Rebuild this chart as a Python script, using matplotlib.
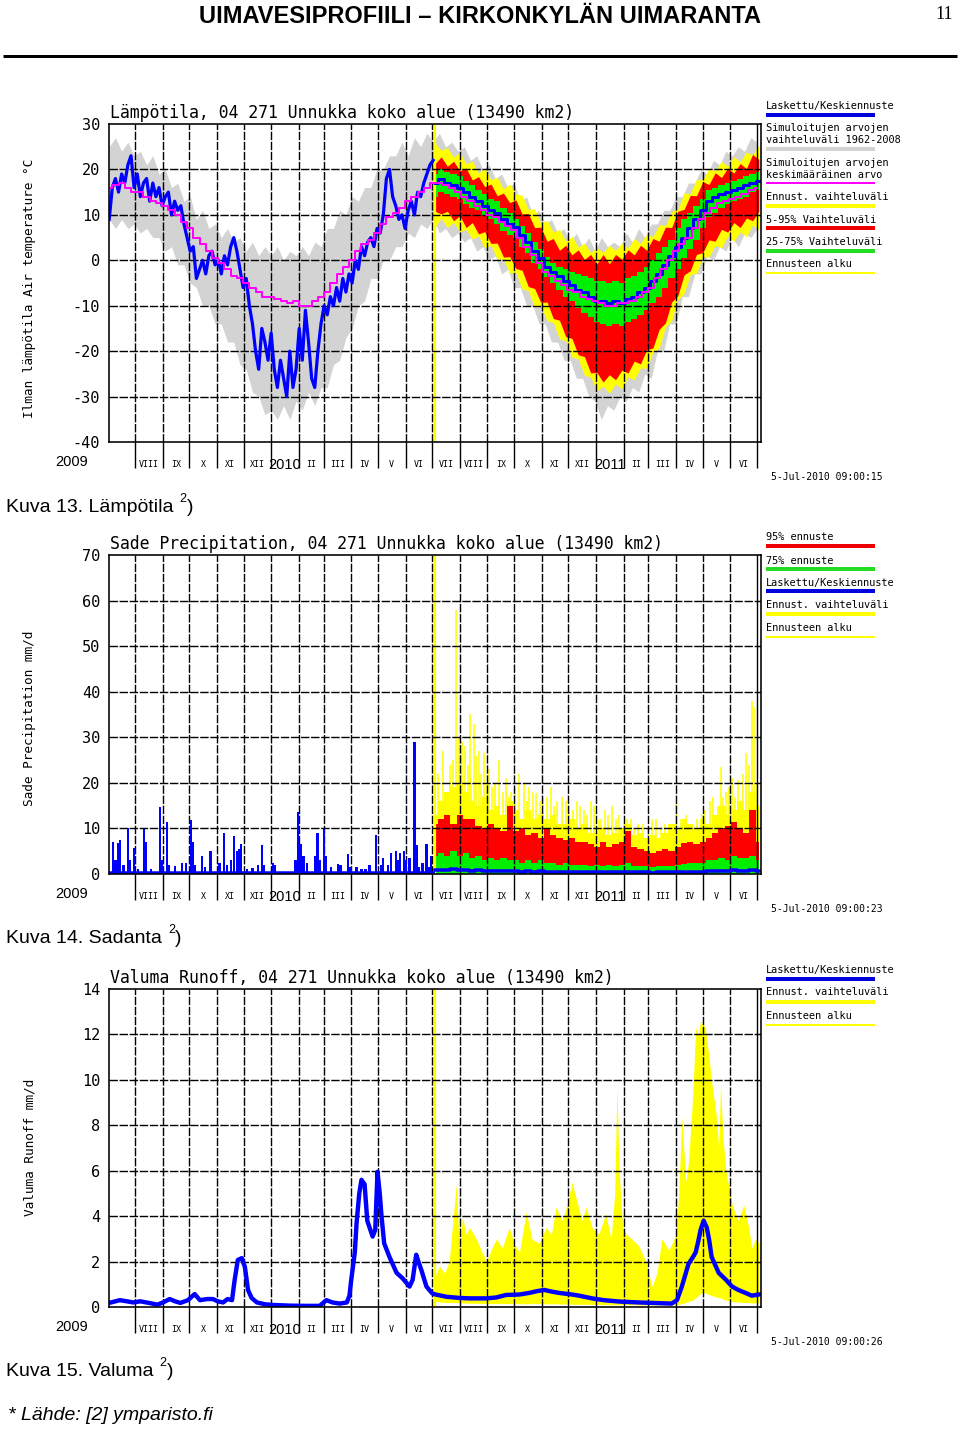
import numpy as np
import pandas as pd
import matplotlib
matplotlib.use('Agg')
import matplotlib.pyplot as plt
from matplotlib import font_manager as fm
from matplotlib.transforms import ScaledTranslation

# ------------------------------------------------------------------ data
AXIS_START = pd.Timestamp('2009-07-03')
AXIS_END = pd.Timestamp('2011-07-05')
FORECAST_START = pd.Timestamp('2010-07-04')
month_starts = pd.date_range('2009-08-01', '2011-07-01', freq='MS')
month_labels = ['VIII', 'IX', 'X', 'XI', 'XII', '2010', 'II', 'III', 'IV', 'V', 'VI',
                'VII', 'VIII', 'IX', 'X', 'XI', 'XII', '2011', 'II', 'III', 'IV', 'V', 'VI']

# weekly climatology (simulated 1962-2008), first value at 2009-07-03
clim_start = '2009-07-03'
temp_sim_max = [25, 27, 24, 26, 23, 24, 21, 23, 19, 20, 16, 17, 13, 14, 9, 11, 7, 8, 5, 7,
                4, 5, 2, 4, 1, 3, 1, 3, 0, 2, 1, 3, 1, 4, 3, 7, 7, 11, 10, 14, 13, 16, 16,
                20, 20, 23, 23, 26, 23, 27, 25, 28, 26,
                28, 25, 26, 24, 25, 22, 23, 20, 21, 18, 19, 16, 17, 13, 14, 10, 11, 8, 9,
                6, 7, 4, 6, 3, 5, 2, 5, 3, 4, 3, 6, 4, 7, 5, 8, 8, 11, 11, 14, 14, 17, 17,
                20, 19, 22, 21, 24, 23, 25, 24, 27, 26]
temp_sim_min = [9, 7, 9, 7, 8, 6, 7, 5, 5, 2, 3, -1, -1, -5, -6, -10, -10, -14, -14, -18,
                -18, -23, -24, -29, -30, -34, -33, -35, -32, -35, -31, -33, -29, -32, -28,
                -28, -23, -22, -17, -15, -10, -9, -4, -4, 0, 0, 3, 3, 6, 5, 8, 7, 9,
                6, 7, 5, 6, 4, 5, 2, 3, 0, 1, -3, -2, -6, -6, -10, -10, -14, -14, -18, -18,
                -22, -22, -26, -26, -30, -31, -35, -32, -33, -30, -31, -28, -29, -25, -26,
                -20, -20, -14, -14, -8, -8, -3, -3, 1, 0, 3, 2, 5, 3, 6, 5, 7]
temp_sim_mean = [16, 16.5, 17, 16, 15, 15, 14, 13, 12.5, 12, 11, 10, 8.5, 7, 5, 3.5, 2,
                 0.5, -0.5, -2, -3.5, -4, -5, -6, -7, -8, -8, -8.5, -9, -9.5, -9, -10, -10,
                 -9, -8, -7, -5, -3, -1.5, 0, 2, 3.5, 4.5, 6, 8, 9.5, 10.5, 11.5, 13, 14,
                 15, 16, 17,
                 17, 16.5, 16, 15, 14, 13, 12, 11, 10, 9.5, 8.5, 7.5, 6.6, 4.8, 3, 1.2,
                 -0.6, -2.5, -3.5, -4.5, -5.5, -6.5, -7, -8, -8.5, -9, -9.5, -10, -10,
                 -9.5, -9.5, -9, -8, -7, -6, -4, -2, 0, 2, 3.5, 5, 7, 9, 10.5, 11.5, 12.5,
                 13, 13.5, 14, 14.5, 15.5, 16]

# observed air temperature, every 3.5 days from 2009-07-03
obs_step_days = 3.5
temp_obs = [9, 16, 18, 15, 19, 17, 21, 23, 16, 19, 14, 17, 18, 13, 17, 14, 16, 12, 14, 15,
            10, 13, 11, 12, 8, 5, 2, 3, -4, -2, 0, -3, 1, 2, -1, 0, -3, 1, -1, 3, 5, 2, -2,
            -6, -4, -10, -14, -20, -24, -15, -18, -22, -16, -24, -28, -22, -26, -30, -20,
            -28, -24, -15, -22, -11, -18, -26, -28, -20, -14, -10, -12, -8, -10, -6, -9,
            -4, -7, -3, -5, 0, -2, 3, 1, 4, 5, 3, 7, 6, 10, 18, 20, 14, 12, 9, 10, 7, 11,
            13, 10, 15, 14, 17, 19, 21, 22]

# weekly forecast statistics, first value at 2010-07-04
temp_fc_median = [17, 18, 17, 16.5, 16, 15, 14, 13, 12, 11, 10.5, 9, 8, 7.3, 5.5, 4, 2, 0.5,
                  -1.5, -2.5, -3.5, -4.5, -5.5, -6.5, -7, -8, -9, -9, -9.5, -9, -9.5, -8.5,
                  -8, -7, -6, -4.5, -3, -1, 1, 3, 5, 7, 9, 11, 13, 14, 14.5, 15, 15.5, 16,
                  16.5, 17, 17.5]
temp_fc_p75 = [19, 20, 19.5, 19, 18.5, 17.5, 16.5, 15.5, 14.5, 13.5, 13, 11.5, 10.5, 9, 7.5,
               6, 4, 2.5, 0.7, -0.5, -1.5, -2, -2.5, -3, -3.5, -4, -4.5, -4.5, -5, -4.5, -5,
               -4, -3.5, -2.5, -1.5, 0, 1.5, 3, 4.5, 7, 9, 10.5, 12, 13.5, 15.4, 16, 16.5,
               17, 17.5, 18, 18.5, 19, 19.5]
temp_fc_p25 = [14, 15, 14.5, 14, 13.5, 12.5, 11.5, 11, 10, 9, 8, 6.5, 5.5, 5, 3, 1.5, -0.5,
               -2, -3.7, -5, -6.5, -8, -9, -10.5, -11.5, -12.5, -13.5, -14, -14.5, -14,
               -14.5, -13.5, -13, -12, -11, -9.5, -8, -6, -4, -2, 0.5, 2.5, 4.5, 7, 9.5,
               10.5, 11.5, 12.5, 13, 13.5, 14, 15, 15.5]
temp_fc_p95 = [21.2, 22.8, 20.7, 21.8, 19.7, 20.3, 17.7, 18.4, 16.2, 16.8, 14.2, 14.8, 12.7,
               13.3, 10.2, 10.3, 7.2, 7.3, 4.2, 4.8, 2.2, 3.3, 1.2, 2.3, 0.2, 1.3, -0.8, 1.3,
               -0.8, 1.3, 0.2, 2.3, 1.2, 3.3, 2.2, 4.8, 4.2, 7.3, 7.2, 10.8, 11.2, 14.3,
               14.2, 17.3, 16.7, 19.3, 18.2, 20.3, 19.2, 21.3, 20.2, 23.3, 22.2]
temp_fc_p5 = [10.8, 10.2, 10.8, 8.7, 9.8, 7.2, 8.3, 5.8, 6.3, 3.7, 3.8, 0.7, 0.8, -1.8, -2.2,
              -5.8, -6.2, -9.3, -9.2, -12.8, -13.2, -16.8, -17.2, -20.8, -21.2, -24.8,
              -24.7, -26.8, -25.2, -26.3, -24.2, -24.8, -22.2, -22.8, -19.7, -19.3, -15.2,
              -13.8, -9.2, -7.8, -3.2, -2.3, 1.3, 1.7, 4.5, 4.2, 6.8, 6.2, 8.3, 7.2, 9.3,
              8.7, 10.8]
temp_fc_max = [25.8, 24.2, 24.8, 22.7, 23.8, 21.2, 21.8, 19.2, 20.3, 17.7, 18.3, 15.7, 16.8,
               14.6, 14.3, 11.2, 11.3, 8.2, 8.8, 6.2, 6.8, 4.2, 5.3, 2.9, 3.8, 1.7, 2.8, 1.7,
               3.3, 2.2, 3.8, 2.7, 4.8, 3.7, 5.8, 5.2, 7.8, 7.7, 10.8, 11.2, 14.8, 14.7,
               17.8, 17.7, 20.3, 19.7, 21.8, 20.7, 22.8, 21.7, 23.8, 23.2, 25.3]
temp_fc_min = [7.2, 9.3, 7.2, 8.3, 6.2, 6.8, 4.7, 5.3, 2.7, 3.3, 0.2, 0.3, -2.8, -2.7, -6.3,
               -6.7, -10.3, -10.2, -13.3, -13.7, -17.3, -17.7, -21.3, -21.7, -25.3, -25.7,
               -28.8, -27.7, -29.3, -27.2, -28.3, -25.7, -26.3, -23.7, -23.8, -20.2, -19.3,
               -14.7, -13.3, -8.7, -7.3, -3.2, -2.8, 0.8, 0.7, 3.3, 2.7, 5.3, 4.2, 6.3, 5.2,
               7.8, 6.7]

# observed precipitation (days after 2009-07-03, mm/d)
rain_obs_day = [4, 7, 10, 12, 16, 21, 23.5, 28, 32.5, 39, 41.5, 47, 57, 59.5, 65, 67, 74,
                82, 86, 92, 94, 96.5, 104, 107.5, 114, 124, 129, 132, 137, 140, 143.5, 146,
                148, 155, 161, 167, 171.5, 174, 184, 186, 196, 203, 209.5, 212, 215, 218.5,
                222, 231, 234, 236.5, 241, 243, 249, 257, 260, 268, 271, 278, 283.5, 288,
                292.5, 300, 306, 308, 313, 317, 322, 324, 327, 331, 333, 337.5, 343, 346,
                348.5, 352, 356.5, 360, 362]
rain_obs = [7.0, 3, 6.8, 7.5, 2, 10, 3, 5.7, 1, 9.9, 7, 1, 14.7, 3, 11.4, 2, 1.8, 2.4, 2.4,
            11.8, 7, 2, 3.9, 1.5, 5, 2.5, 9, 2, 3, 8.4, 5, 5.5, 6.5, 1, 1.3, 2, 6.4, 2, 2.4,
            2, 0.3, 0.5, 3, 13.6, 6.6, 4, 2.4, 4, 9, 3, 9.9, 4, 1.6, 2.2, 2, 4.4, 1.5, 1.6,
            1.2, 1, 2, 8.6, 2, 3.5, 2, 4.6, 5, 3, 4.6, 5, 3, 3.5, 29, 6.4, 1.5, 2.4, 6.6,
            1.5, 3.9]

# weekly precipitation forecast, first value at 2010-07-04
rain_fc_max = [13, 16, 18, 19, 20, 18, 16, 15, 17, 14, 15, 13, 16, 14, 12, 14, 12, 13, 12,
               13, 11, 11, 12, 10, 11, 9, 9, 10, 8.5, 9, 10, 11, 8.5, 9, 8, 8.5, 8, 9, 11,
               10, 12, 11, 10, 12, 11, 13, 15, 13, 14, 16, 14, 18, 15]
rain_fc_p95 = [11, 12, 13, 11, 13, 12, 12, 10.5, 10, 11, 10, 9.5, 15, 9.5, 10, 8.5, 9, 8, 10,
               8.5, 8, 7.5, 8, 7, 7, 6.5, 6, 7, 6, 6.5, 7, 9.5, 6, 5.5, 5, 4.6, 5, 5.5, 5, 6,
               6.8, 7, 6.5, 7, 8, 9, 10, 10.5, 11.4, 10, 9, 14, 7]
rain_fc_p75 = [4, 4.5, 4, 5, 4, 4.5, 3.5, 4, 3, 3.5, 3, 3.5, 3, 3, 2.5, 3, 2.5, 3, 2.5, 2.5,
               2, 2.5, 2, 2, 2, 1.8, 2, 1.8, 2, 1.8, 2, 2.5, 1.8, 1.7, 1.7, 1.5, 1.7, 1.8,
               1.8, 2, 2.2, 2.5, 2.5, 2.5, 3, 3, 3.5, 3, 4, 3.5, 3.5, 4, 3]
rain_fc_median = [0.8, 0.9, 0.8, 1.0, 0.8, 0.8, 0.7, 0.8, 0.7, 0.7, 0.6, 0.7, 0.6, 0.6, 0.5,
                  0.6, 0.5, 0.6, 0.5, 0.5, 0.4, 0.5, 0.4, 0.4, 0.4, 0.4, 0.4, 0.4, 0.4, 0.4,
                  0.4, 0.5, 0.4, 0.4, 0.4, 0.3, 0.4, 0.4, 0.4, 0.4, 0.5, 0.5, 0.5, 0.5, 0.6,
                  0.6, 0.7, 0.6, 0.8, 0.7, 0.7, 0.8, 0.6]
# single-day maxima of the forecast ensemble (days after 2009-07-03)
rain_spike_day = [383, 390, 393, 396, 400, 405, 410, 415, 421, 427, 434, 438, 446, 452, 461,
                  466, 472, 480, 488, 497, 503, 509, 517, 526, 533, 541, 550, 557, 565, 573,
                  582, 594, 610, 620, 637, 648, 655, 666, 679, 688, 690, 696, 700, 707, 712,
                  716, 722, 725,
                  370, 375, 379, 386, 403, 407, 412, 418, 424, 430, 442, 449, 456, 469, 476,
                  484, 492, 500, 513, 521, 529, 537, 545, 553, 561, 569, 578, 586, 590, 600,
                  605, 615, 625, 631, 642, 660, 670, 675, 684, 693, 703, 719, 728]
rain_spike = [24, 58, 30, 29, 28, 35, 33, 27, 26.5, 23, 20, 25, 21, 18, 22, 20, 19, 17.7, 17,
              19, 16, 17, 15, 16, 14, 16, 11.8, 14, 15, 13, 12, 11, 12, 10, 15.5, 13, 11, 13,
              17, 23.5, 17, 19, 21, 20.6, 22, 26.5, 38, 36.6,
              22, 27, 18, 25, 24, 21, 26, 22, 20, 19, 18, 17, 19, 16, 18, 16, 17, 15, 16,
              14, 15, 13, 15, 12, 13, 12, 11, 12, 10, 11, 10, 12, 11, 10, 12, 12, 14, 16,
              15, 18, 17, 24, 20]

# runoff (days after 2009-07-03, mm/d)
runoff_obs_day = [0, 12, 20, 27, 35, 46, 54, 60.5, 68, 74, 80, 88.5, 96, 102, 110, 116.5, 122,
                  128, 133, 138, 141, 144.5, 149, 152.5, 156, 160, 166, 175, 184, 203, 220,
                  236.5, 244, 251, 259, 267, 270, 272, 276, 278, 281, 283.5, 287, 290, 296,
                  299, 301.5, 304, 306, 309, 315, 323, 329.5, 337.5, 341, 345, 347.5, 351,
                  356.5, 363]
runoff_obs = [0.18, 0.3, 0.25, 0.2, 0.25, 0.17, 0.1, 0.2, 0.35, 0.25, 0.18, 0.3, 0.57, 0.3,
              0.35, 0.35, 0.25, 0.2, 0.35, 0.3, 1.2, 2.07, 2.15, 1.76, 0.75, 0.4, 0.2, 0.12,
              0.09, 0.06, 0.05, 0.05, 0.3, 0.2, 0.15, 0.2, 0.5, 1.2, 2.4, 3.7, 5.0, 5.6, 5.4,
              3.8, 3.1, 3.4, 5.95, 5.0, 4.0, 2.8, 2.2, 1.5, 1.27, 0.9, 1.2, 2.3, 2.0, 1.6,
              0.9, 0.6]
runoff_fc_day = [366.6, 379, 393.5, 405, 424, 435, 446, 461, 472, 481, 489, 497, 505.6, 520,
                 528, 542.6, 556, 573, 595, 610, 632, 638, 643.5, 648, 651, 656, 659, 662,
                 664.6, 668, 671.5, 674, 677, 685, 693, 700, 707, 715, 722, 730]
runoff_fc_median = [0.55, 0.45, 0.4, 0.38, 0.38, 0.42, 0.53, 0.55, 0.62, 0.7, 0.75, 0.68,
                    0.62, 0.55, 0.5, 0.38, 0.3, 0.24, 0.2, 0.18, 0.15, 0.3, 0.9, 1.5, 1.9,
                    2.2, 2.4, 2.9, 3.4, 3.8, 3.5, 3.0, 2.2, 1.5, 1.2, 0.9, 0.75, 0.62, 0.5,
                    0.55]
runoff_range_day = [365.5, 371, 377, 382, 390, 393.5, 397, 401, 405, 412.6, 418, 424, 429,
                    435, 441.7, 449.5, 455, 461, 468.6, 475, 483, 491, 497, 502, 509, 514.6,
                    520, 526, 531, 536, 542.6, 550, 558, 564, 568, 570.6, 573, 577, 581, 587,
                    595, 603, 610, 615.5, 621, 629, 637, 640, 643.5, 648, 651, 656, 659, 662,
                    664.6, 668, 670, 674, 677, 682, 685, 687, 689.6, 693, 700, 707, 713,
                    718.6, 722, 726.5, 730]
runoff_fc_max = [1.3, 1.8, 1.5, 2.0, 5.4, 2.5, 4.0, 3.2, 3.5, 3.0, 2.5, 2.0, 2.5, 3.0, 2.6,
                 3.5, 2.8, 2.4, 4.2, 3.0, 2.8, 3.5, 3.2, 4.4, 3.8, 4.5, 5.5, 4.6, 3.8, 4.4,
                 3.5, 3.2, 4.1, 3.0, 5.0, 9.7, 6.0, 3.5, 3.2, 3.0, 2.7, 2.0, 0.9, 1.5, 3.0,
                 2.5, 3.2, 5.0, 8.4, 5.5, 6.4, 9.5, 12.3, 12.0, 12.6, 12.4, 12.3, 11.0, 9.9,
                 8.5, 7.0, 9.9, 7.5, 6.0, 4.5, 3.8, 4.5, 3.5, 2.6, 3.0, 2.8]
runoff_fc_min = [0.25, 0.22, 0.2, 0.2, 0.2, 0.18, 0.18, 0.17, 0.17, 0.16, 0.16, 0.15, 0.15,
                 0.15, 0.15, 0.15, 0.15, 0.14, 0.14, 0.15, 0.15, 0.14, 0.14, 0.14, 0.13,
                 0.13, 0.12, 0.12, 0.12, 0.12, 0.11, 0.11, 0.1, 0.1, 0.1, 0.1, 0.1, 0.1, 0.1,
                 0.1, 0.09, 0.09, 0.09, 0.09, 0.09, 0.09, 0.1, 0.12, 0.15, 0.2, 0.25, 0.3,
                 0.4, 0.5, 0.6, 0.65, 0.6, 0.55, 0.5, 0.45, 0.4, 0.4, 0.35, 0.3, 0.25, 0.22,
                 0.2, 0.2, 0.18, 0.18, 0.18]

# ------------------------------------------------------------------ style
W, H = 960, 1429
L, R = 109.2, 760.6
MONO = 'DejaVu Sans Mono'
names = {f.name for f in fm.fontManager.ttflist}
NARROW = 'Liberation Sans Narrow' if 'Liberation Sans Narrow' in names else 'Liberation Sans'
BLUE, GRAY, MAG = '#0000ff', '#d3d3d3', '#ff00ff'
YEL, RED, GRN = '#ffff00', '#ff0000', '#00ee00'


def pt(p):
    return p * 0.72


def dnum(ts):
    return (pd.Timestamp(ts) - AXIS_START) / pd.Timedelta(days=1)


XMAX = dnum(AXIS_END)
month_days = np.array([dnum(m) for m in month_starts])
clim_days = dnum(clim_start) + 7 * np.arange(len(temp_sim_max))
fc_days = dnum(FORECAST_START) + 7 * np.arange(len(temp_fc_median))
obs_days = obs_step_days * np.arange(len(temp_obs))
FC0 = dnum(FORECAST_START)

fig = plt.figure(figsize=(W / 100, H / 100), dpi=100)
ov = fig.add_axes([0, 0, 1, 1], zorder=-1)
ov.set_xlim(0, W)
ov.set_ylim(H, 0)
ov.axis('off')


def make_panel(top, bottom, ylo, yhi, yticks, title, ylabel, ylab_y, stamp):
    ax = fig.add_axes([L / W, 1 - bottom / H, (R - L) / W, (bottom - top) / H])
    ax.set_xlim(0, XMAX)
    ax.set_ylim(ylo, yhi)
    ax.set_yticks(yticks, [str(v) for v in yticks])
    for t in ax.get_yticklabels():
        t.set_family(MONO)
        t.set_fontsize(11)
    ax.tick_params(axis='y', length=0, pad=6.5)
    ax.set_xticks(month_days)
    ax.tick_params(axis='x', length=pt(26), width=pt(1.4), direction='out',
                   labelbottom=False, color='black')
    for s in ax.spines.values():
        s.set_linewidth(pt(1.6))
        s.set_zorder(6)
    for v in yticks[1:-1]:
        ax.axhline(v, color='black', lw=pt(1.4), ls=(0, (6, 1.2)), zorder=3)
    for d in month_days[:-1]:
        ax.axvline(d, color='black', lw=pt(1.4), ls=(0, (6, 1.2)), zorder=3)
    ax.axvline(month_days[-1], color='black', lw=pt(1.4), zorder=3)
    ax.axvline(FC0, color=YEL, lw=pt(2.2), zorder=2.5)
    tr = ax.get_xaxis_transform() + ScaledTranslation(0, -23 / 100, fig.dpi_scale_trans)
    for i, lab in enumerate(month_labels):
        c = (month_days[i] + month_days[i + 1]) / 2
        if lab.isdigit():
            ax.text(c, 0, lab, transform=tr, ha='center', va='center', fontsize=10.5,
                    family=[NARROW, 'DejaVu Sans'], clip_on=False)
        else:
            ax.text(c, 0, lab, transform=tr, ha='center', va='center', fontsize=6,
                    family=MONO, clip_on=False)
    ov.text(72, bottom + 20, '2009', ha='center', va='center', fontsize=10.5,
            family=[NARROW, 'DejaVu Sans'])
    ov.text(110, top - 11, title, ha='left', va='center', fontsize=11.9, family=MONO)
    ov.text(30, ylab_y, ylabel, rotation=90, ha='center', va='center', fontsize=9.2,
            family=MONO)
    ov.text(771, bottom + 35, stamp, ha='left', va='center', fontsize=7, family=MONO)
    return ax


def legend(entries):
    for lines, ty, ly, color, lwpx in entries:
        for j, s in enumerate(lines):
            ov.text(766, ty + 12 * j, s, ha='left', va='center', fontsize=7.4, family=MONO)
        ov.plot([766, 875], [ly, ly], color=color, lw=pt(lwpx), solid_capstyle='butt')


# ------------------------------------------------------------------ panel 1: temperature
ax1 = make_panel(124, 442, -40, 30, [-40, -30, -20, -10, 0, 10, 20, 30],
                 'Lämpötila, 04 271 Unnukka koko alue (13490 km2)',
                 'Ilman lämpötila Air temperature °C', 288, '5-Jul-2010 09:00:15')
ax1.fill_between(clim_days, temp_sim_min, temp_sim_max, color=GRAY, lw=0, zorder=1)
ax1.fill_between(fc_days, temp_fc_min, temp_fc_max, color=YEL, lw=0, zorder=1.2)
ax1.fill_between(fc_days, temp_fc_p5, temp_fc_p95, color=RED, lw=0, zorder=1.3)
ax1.fill_between(fc_days, temp_fc_p25, temp_fc_p75, step='mid', color=GRN, lw=0, zorder=1.4)
ax1.plot(fc_days, temp_fc_median, color=BLUE, lw=pt(3), drawstyle='steps-mid', zorder=4)
ax1.plot(obs_days, temp_obs, color=BLUE, lw=pt(3.2), zorder=4)
ax1.plot(clim_days, temp_sim_mean, color=MAG, lw=pt(2), drawstyle='steps-mid', zorder=4.5)
legend([
    (['Laskettu/Keskiennuste'], 105.7, 114.7, '#0000dd', 4),
    (['Simuloitujen arvojen', 'vaihteluväli 1962-2008'], 128.3, 148.7, GRAY, 4),
    (['Simuloitujen arvojen', 'keskimääräinen arvo'], 162.7, 182.7, MAG, 2),
    (['Ennust. vaihteluväli'], 197.3, 206, YEL, 4),
    (['5-95% Vaihteluväli'], 220, 228.3, '#ee0000', 4),
    (['25-75% Vaihteluväli'], 242.3, 251, '#22dd22', 4),
    (['Ennusteen alku'], 264.3, 272.7, YEL, 2),
])

# ------------------------------------------------------------------ panel 2: precipitation
ax2 = make_panel(555, 874, 0, 70, [0, 10, 20, 30, 40, 50, 60, 70],
                 'Sade Precipitation, 04 271 Unnukka koko alue (13490 km2)',
                 'Sade Precipitation mm/d', 718, '5-Jul-2010 09:00:23')
ax2.fill_between(fc_days, 0, rain_fc_max, step='mid', color=YEL, lw=0, zorder=1)
ax2.vlines(rain_spike_day, 0, rain_spike, color=YEL, lw=pt(1.6), zorder=1)
ax2.fill_between(fc_days, 0, rain_fc_p95, step='mid', color=RED, lw=0, zorder=1.3)
ax2.fill_between(fc_days, 0, rain_fc_p75, step='mid', color=GRN, lw=0, zorder=1.4)
ax2.plot(fc_days, rain_fc_median, color=BLUE, lw=pt(3.5), drawstyle='steps-mid', zorder=4)
ax2.bar(rain_obs_day, rain_obs, width=2.6, color=BLUE, lw=0, zorder=4)
ax2.hlines(0.25, 0, FC0, color=BLUE, lw=pt(3.5), zorder=4)
legend([
    (['95% ennuste'], 537.3, 546, '#ee0000', 4),
    (['75% ennuste'], 560.7, 569, '#22dd22', 4),
    (['Laskettu/Keskiennuste'], 582.7, 591, '#0000dd', 4),
    (['Ennust. vaihteluväli'], 605.3, 614.3, YEL, 4),
    (['Ennusteen alku'], 628.3, 636.7, YEL, 2),
])

# ------------------------------------------------------------------ panel 3: runoff
ax3 = make_panel(989, 1307, 0, 14, [0, 2, 4, 6, 8, 10, 12, 14],
                 'Valuma Runoff, 04 271 Unnukka koko alue (13490 km2)',
                 'Valuma Runoff mm/d', 1147, '5-Jul-2010 09:00:26')
ax3.fill_between(runoff_range_day, runoff_fc_min, runoff_fc_max, color=YEL, lw=0, zorder=1)
ax3.plot(list(runoff_obs_day) + list(runoff_fc_day), list(runoff_obs) + list(runoff_fc_median),
         color=BLUE, lw=pt(4.4), zorder=4, solid_joinstyle='round')
legend([
    (['Laskettu/Keskiennuste'], 970, 979.3, '#0000dd', 4),
    (['Ennust. vaihteluväli'], 992.3, 1001.7, YEL, 4),
    (['Ennusteen alku'], 1016, 1025, YEL, 2),
])

# ------------------------------------------------------------------ page texts
hdr = ov.text(480, 16, 'UIMAVESIPROFIILI – KIRKONKYLÄN UIMARANTA', ha='center', va='center',
              fontsize=17, fontweight='bold', family=[NARROW, 'DejaVu Sans'])
ov.text(944, 14, '11', ha='center', va='center', fontsize=13, family='Liberation Serif')
ov.plot([3, 957], [56, 56], color='black', lw=pt(3), solid_capstyle='butt')

fig.canvas.draw()
rend = fig.canvas.get_renderer()
bb = hdr.get_window_extent(rend)
hdr.set_fontsize(17 * 564 / bb.width)


def caption(y, txt):
    t = ov.text(6, y, txt, ha='left', va='center', fontsize=14, family='Liberation Sans')
    x1 = t.get_window_extent(rend).x1
    s = ov.text(x1 + 6, y - 8, '2', ha='left', va='center', fontsize=9,
                family='Liberation Sans')
    x2 = s.get_window_extent(rend).x1
    ov.text(x2 + 0.5, y, ')', ha='left', va='center', fontsize=14, family='Liberation Sans')


caption(507, 'Kuva 13. Lämpötila')
caption(938, 'Kuva 14. Sadanta')
caption(1371, 'Kuva 15. Valuma')
ov.text(8, 1416, '* Lähde: [2] ymparisto.fi', ha='left', va='center', fontsize=14,
        style='italic', family='Liberation Sans')

fig.savefig('out.png', dpi=100)
